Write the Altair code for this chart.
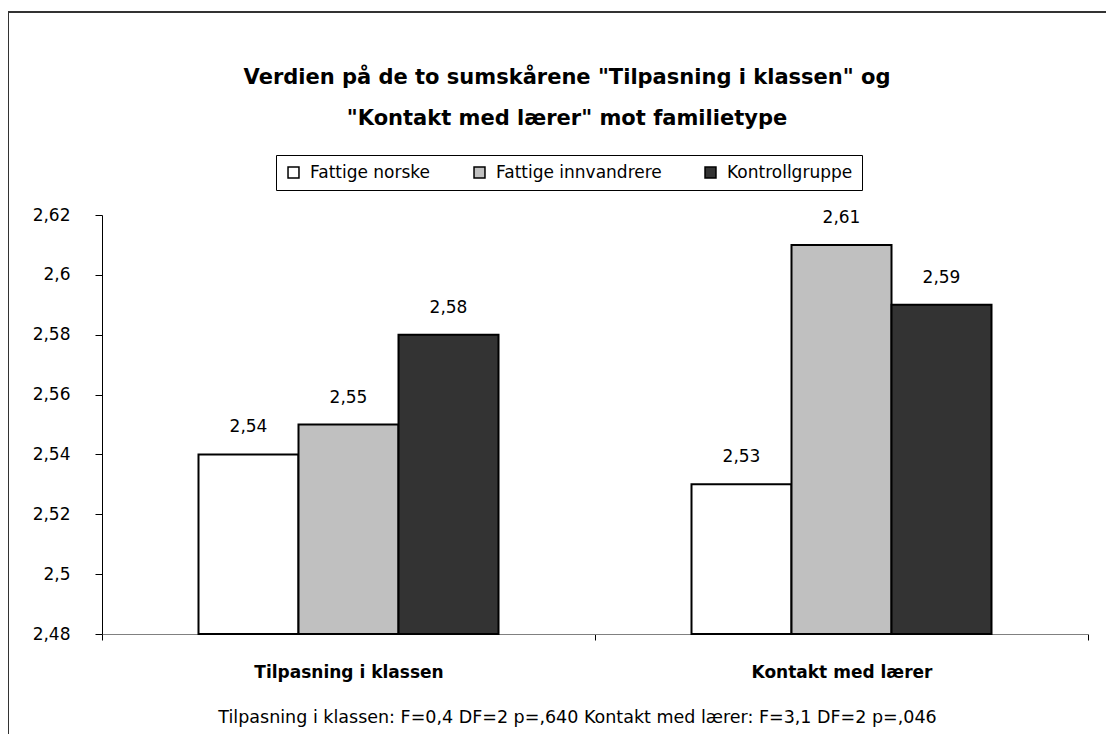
import altair as alt
import pandas as pd

categories = ["Tilpasning i klassen", "Kontakt med lærer"]
groups = ["Fattige norske", "Fattige innvandrere", "Kontrollgruppe"]
values_tilpasning = [2.54, 2.55, 2.58]
values_kontakt = [2.53, 2.61, 2.59]
group_colors = ["#FFFFFF", "#C0C0C0", "#333333"]
y_ticks = [2.48, 2.50, 2.52, 2.54, 2.56, 2.58, 2.60, 2.62]
title_lines = ['Verdien på de to sumskårene "Tilpasning i klassen" og',
               '"Kontakt med lærer" mot familietype']
note = "Tilpasning i klassen: F=0,4 DF=2 p=,640 Kontakt med lærer: F=3,1 DF=2 p=,046"

rows = []
for cat, vals in zip(categories, [values_tilpasning, values_kontakt]):
    for g, v in zip(groups, vals):
        rows.append({"kategori": cat, "gruppe": g, "verdi": v})
df = pd.DataFrame(rows)

FONT = "DejaVu Sans"

x_enc = alt.X("kategori:N", sort=categories,
              scale=alt.Scale(paddingInner=0, paddingOuter=0),
              axis=alt.Axis(title=note, labelAngle=0, labelFontWeight="bold",
                            labelFontSize=17, labelPadding=24, labelLimit=400,
                            tickBand="extent",
                            tickSize=6, domainColor="#808080", tickColor="#000000",
                            labelColor="#000000", titleFontWeight="normal",
                            titleFontSize=17.5, titleColor="#000000",
                            titleX=475, titleY=88, titleBaseline="alphabetic",
                            titleAnchor="middle", titleAlign="center", titleLimit=1000))
xoff_enc = alt.XOffset("gruppe:N", sort=groups,
                       scale=alt.Scale(paddingInner=0, paddingOuter=0.965))
y_enc = alt.Y("verdi:Q",
              scale=alt.Scale(domain=[y_ticks[0], y_ticks[-1]], zero=False, nice=False),
              axis=alt.Axis(title=None, values=y_ticks, grid=False, tickSize=7,
                            labelPadding=25, labelFontSize=17, labelColor="#000000",
                            domainColor="#000000", tickColor="#000000",
                            labelExpr="replace(format(datum.value, '.3~g'), '.', ',')"))

frame = alt.Chart(pd.DataFrame({"f": [0]})).mark_rect(
    fillOpacity=0, stroke="#333333", strokeWidth=2
).encode(x=alt.value(-94), x2=alt.value(1300), y=alt.value(-203), y2=alt.value(1000))

bars = alt.Chart(df).mark_bar(stroke="#000000", strokeWidth=2).encode(
    x=x_enc, xOffset=xoff_enc, y=y_enc, y2=alt.datum(y_ticks[0]),
    fill=alt.Fill("gruppe:N", sort=groups,
                  scale=alt.Scale(domain=groups, range=group_colors),
                  legend=alt.Legend(title=None, orient="none", direction="horizontal",
                                    legendX=174, legendY=-60, symbolType="square",
                                    symbolSize=120, symbolStrokeColor="#000000",
                                    symbolStrokeWidth=1.5, labelFontSize=17,
                                    labelColor="#000000", columnPadding=40,
                                    labelOffset=8, padding=9, strokeColor="#000000",
                                    fillColor="#FFFFFF", labelLimit=400)),
)

labels = alt.Chart(df).transform_calculate(
    etikett="replace(format(datum.verdi, '.2f'), '.', ',')"
).mark_text(fontSize=17, font=FONT, baseline="alphabetic", dy=-22, color="#000000").encode(
    x=alt.X("kategori:N", sort=categories), xOffset=alt.XOffset("gruppe:N", sort=groups),
    y="verdi:Q", text="etikett:N",
)

chart = alt.layer(frame, bars, labels).properties(
    width=986, height=419,
    autosize=alt.AutoSizeParams(type="none"),
    padding={"left": 94, "top": 207, "right": 18, "bottom": 100},
    title=alt.TitleParams(text=title_lines, anchor="middle", dx=-28, offset=0, dy=118,
                          fontSize=21, fontWeight="bold", font=FONT,
                          lineHeight=41, color="#000000", limit=1000),
).configure(font=FONT).configure_view(stroke=None).configure_axis(
    labelFont=FONT, titleFont=FONT
).configure_legend(labelFont=FONT)

chart.save("out.html", embed_options={"renderer": "svg", "actions": False})
